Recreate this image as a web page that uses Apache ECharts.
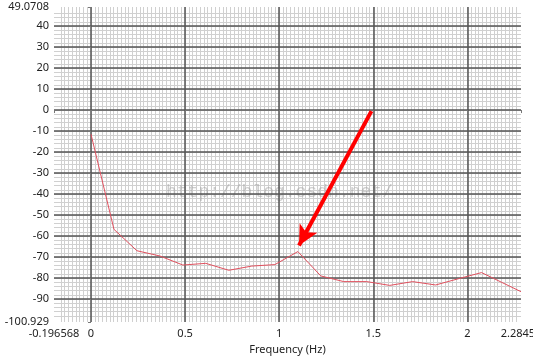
<!DOCTYPE html>
<html>
<head>
<meta charset="utf-8">
<script src="https://cdn.jsdelivr.net/npm/echarts@6/dist/echarts.min.js"></script>
<style>
html,body{margin:0;padding:0;background:#fff;}
#c{width:533px;height:364px;}
</style>
</head>
<body>
<div id="c"></div>
<script>
// Data
var frequencyHz = [0, 0.122, 0.244, 0.366, 0.488, 0.61, 0.732, 0.854, 0.977, 1.099, 1.221, 1.343, 1.465, 1.587, 1.709, 1.831, 1.953, 2.075, 2.28457];
var magnitudeDb = [-11.5, -56.8, -67, -69.5, -73.8, -73, -76.3, -74.3, -73.6, -67.4, -79, -81.7, -81.7, -83.5, -81.7, -83.3, -80.3, -77.4, -86.5];
var xMin = -0.196568, xMax = 2.28457;
var yMin = -100.929, yMax = 49.0708;
var xTickLabels = [-0.196568, 0, 0.5, 1, 1.5, 2, 2.28457];
var yTickLabels = [-100.929, -90, -80, -70, -60, -50, -40, -30, -20, -10, 0, 10, 20, 30, 40, 49.0708];
var xMinorStep = 0.02, yMinorStep = 2;
var arrowFrom = [1.49, -0.5];
var arrowTo = [1.105, -64.5];
var xTitle = 'Frequency (Hz)';
var yTitle = 'dB';
var watermark = 'http://blog.csdn.net/';

var points = frequencyHz.map(function (f, i) { return [f, magnitudeDb[i]]; });
function minorValues(lo, hi, step) {
  var out = [];
  var start = Math.ceil(lo / step);
  var end = Math.floor(hi / step);
  for (var k = start; k <= end; k++) out.push(+(k * step).toFixed(6));
  return out;
}
var xMinor = minorValues(xMin, xMax, xMinorStep);
var yMinor = minorValues(yMin, yMax, yMinorStep);

var font = 'Noto Sans';
var chart = echarts.init(document.getElementById('c'), null, {renderer: 'canvas'});
chart.setOption({
  animation: false,
  backgroundColor: '#ffffff',
  grid: {left: 54, right: 12, top: 7, bottom: 42, containLabel: false, outerBoundsMode: 'none'},
  xAxis: [
    {
      type: 'value', min: xMin, max: xMax,
      name: xTitle, nameLocation: 'middle', nameGap: 22,
      nameTextStyle: {fontFamily: font, fontSize: 11, color: '#222'},
      axisLine: {show: false},
      axisTick: {show: true, length: 3, customValues: xTickLabels, lineStyle: {color: '#777'}},
      axisLabel: {fontFamily: font, fontSize: 11, color: '#222', margin: 6, customValues: xTickLabels,
        formatter: function (v) { return String(+(+v).toFixed(6)); }},
      splitLine: {show: true, showMinLine: false, showMaxLine: false, lineStyle: {color: '#555', width: 1.5}},
      z: 3
    },
    {
      type: 'value', min: xMin, max: xMax,
      axisLine: {show: false},
      axisTick: {show: false, customValues: xMinor},
      axisLabel: {show: false, customValues: xMinor},
      splitLine: {show: true, showMinLine: false, showMaxLine: false, lineStyle: {color: '#d0d0d0', width: 1}},
      z: 1
    }
  ],
  yAxis: [
    {
      type: 'value', min: yMin, max: yMax,
      name: yTitle, nameLocation: 'middle', nameGap: 40, nameRotate: 90,
      nameTextStyle: {fontFamily: font, fontSize: 11, color: '#222'},
      axisLine: {show: false},
      axisTick: {show: true, length: 3, customValues: yTickLabels, lineStyle: {color: '#777'}},
      axisLabel: {fontFamily: font, fontSize: 11, color: '#222', margin: 5, customValues: yTickLabels,
        formatter: function (v) { return String(+(+v).toFixed(4)); }},
      splitLine: {show: true, showMinLine: false, showMaxLine: false, lineStyle: {color: '#555', width: 1.5}},
      z: 3
    },
    {
      type: 'value', min: yMin, max: yMax,
      axisLine: {show: false},
      axisTick: {show: false, customValues: yMinor},
      axisLabel: {show: false, customValues: yMinor},
      splitLine: {show: true, showMinLine: false, showMaxLine: false, lineStyle: {color: '#d0d0d0', width: 1}},
      z: 1
    }
  ],
  graphic: [{
    type: 'text', left: 166, top: 183, z: 2, silent: true,
    style: {text: watermark, fontFamily: 'Liberation Mono', fontSize: 18, fill: 'rgba(160,160,160,0.5)'}
  }],
  series: [{
    type: 'line', xAxisIndex: 0, yAxisIndex: 0,
    data: points, showSymbol: false, symbol: 'none',
    lineStyle: {color: '#e0505e', width: 1},
    z: 5,
    markLine: {
      silent: true, symbol: ['none', 'arrow'], symbolSize: [15, 20],
      label: {show: false},
      lineStyle: {color: '#ff0000', width: 4, type: 'solid'},
      data: [[{coord: arrowFrom}, {coord: arrowTo}]]
    }
  }]
});
</script>
</body>
</html>
